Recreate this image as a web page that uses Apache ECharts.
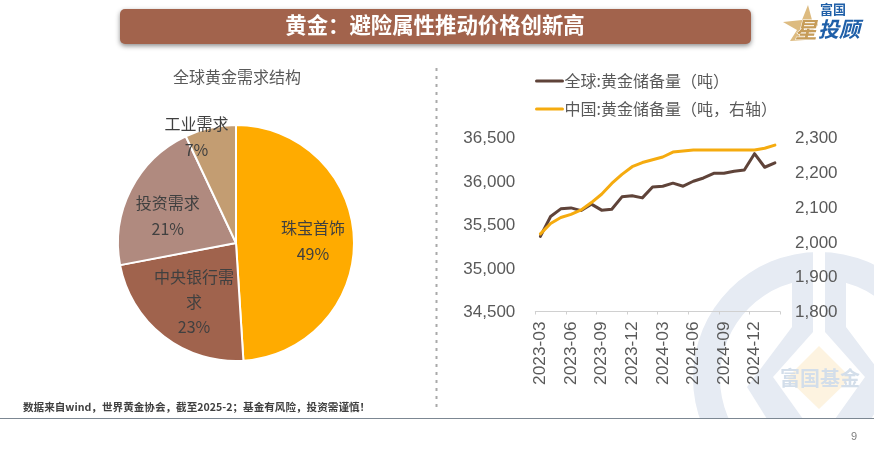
<!DOCTYPE html>
<html>
<head>
<meta charset="utf-8">
<style>html,body{margin:0;padding:0;background:#fff}#c{width:874px;height:456px}</style>
<script src="https://cdn.jsdelivr.net/npm/echarts@6/dist/echarts.min.js"></script>
</head>
<body>
<div id="c"></div>
<script>
const pageTitle = '黄金：避险属性推动价格创新高';
const pieTitle = '全球黄金需求结构';
const footnote = '数据来自wind，世界黄金协会，截至2025-2；基金有风险，投资需谨慎！';
const pieNames = ['珠宝首饰', '中央银行需求', '投资需求', '工业需求'];
const pieValues = [49, 23, 21, 7];
const months = ['2023-03','2023-04','2023-05','2023-06','2023-07','2023-08','2023-09','2023-10','2023-11','2023-12','2024-01','2024-02','2024-03','2024-04','2024-05','2024-06','2024-07','2024-08','2024-09','2024-10','2024-11','2024-12','2025-01','2025-02'];
const globalName = '全球:黄金储备量（吨）';
const chinaName = '中国:黄金储备量（吨，右轴）';
const globalReserve = [35363,35592,35680,35691,35660,35734,35665,35676,35818,35830,35806,35932,35940,35975,35940,35997,36035,36088,36088,36112,36127,36314,36158,36208];
const chinaReserve = [2023,2053,2070,2079,2092,2113,2137,2168,2194,2216,2228,2236,2244,2258,2261,2264,2264,2264,2264,2264,2264,2264,2269,2278];

const FONT = '"Noto Sans CJK SC","Liberation Sans",sans-serif';
const NUM = '"Liberation Sans","Noto Sans CJK SC",sans-serif';
const WM = '#e6ebf3';

const chart = echarts.init(document.getElementById('c'), null, {renderer: 'canvas'});
const pieColors = ['#FFAB00', '#A0634D', '#B08A7F', '#C39D72'];
const labelOffsets = [[15, 0], [-4, 10], [-13, 1], [-26, -46]];

chart.setOption({
  animation: false,
  backgroundColor: '#fff',
  title: [
    {text: pageTitle, left: 430, top: 5, textAlign: 'center',
      textStyle: {color: '#fff', fontFamily: FONT, fontWeight: 'bold', fontSize: 21.4, lineHeight: 30}},
    {text: pieTitle, left: 232, top: 61, textAlign: 'center',
      textStyle: {color: '#595959', fontFamily: FONT, fontWeight: 'normal', fontSize: 16, lineHeight: 22}},
    {text: footnote, left: 18, top: 394,
      textStyle: {color: '#404040', fontFamily: FONT, fontWeight: 'bold', fontSize: 10.6, lineHeight: 15}}
  ],
  legend: {
    orient: 'vertical', left: 530, top: 68, itemWidth: 26, itemHeight: 14, itemGap: 12,
    data: [globalName, chinaName],
    textStyle: {color: '#595959', fontFamily: FONT, fontSize: 16, padding: [0, 0, 0, -3]},
    lineStyle: {width: 3},
    itemStyle: {opacity: 0}
  },
  grid: {left: 535.3, right: 94, top: 137.5, bottom: 144.5, containLabel: false},
  xAxis: {
    type: 'category', data: months, boundaryGap: true,
    axisLine: {show: true, lineStyle: {color: '#d0d0d0', width: 1}},
    axisTick: {show: true, interval: 2, length: 3, lineStyle: {color: '#d0d0d0'}},
    axisLabel: {interval: 2, rotate: 90, margin: 10, color: '#595959', fontFamily: NUM, fontSize: 17.3, hideOverlap: false},
    splitLine: {show: false}
  },
  yAxis: [
    {type: 'value', min: 34500, max: 36500, interval: 500,
      axisLine: {show: false}, axisTick: {show: false}, splitLine: {show: false},
      axisLabel: {margin: 20, color: '#595959', fontFamily: NUM, fontSize: 17, verticalAlign: 'top', lineHeight: 2,
        formatter: v => v.toLocaleString('en-US')}},
    {type: 'value', min: 1800, max: 2300, interval: 100, position: 'right',
      axisLine: {show: false}, axisTick: {show: false}, splitLine: {show: false},
      axisLabel: {margin: 15, color: '#595959', fontFamily: NUM, fontSize: 17, verticalAlign: 'top', lineHeight: 2,
        formatter: v => v.toLocaleString('en-US')}}
  ],
  series: [
    {type: 'pie', center: [236, 243], radius: [0, 118], startAngle: 90, clockwise: true,
      avoidLabelOverlap: false, z: 3,
      itemStyle: {borderColor: '#fff', borderWidth: 2},
      label: {show: true, position: 'inside', formatter: '{b}\n{d}%', color: '#404040',
        fontFamily: FONT, fontSize: 16, lineHeight: 26, align: 'center'},
      labelLine: {show: false},
      emphasis: {disabled: true},
      data: pieNames.map((n, i) => ({
        name: n, value: pieValues[i], itemStyle: {color: pieColors[i]},
        label: Object.assign({offset: labelOffsets[i]}, i === 1 ? {width: 82, overflow: 'break', lineHeight: 25} : {})
      }))
    },
    {name: globalName, type: 'line', yAxisIndex: 0, data: globalReserve, symbol: 'none', z: 3,
      lineStyle: {color: '#5F4339', width: 3, join: 'round', cap: 'round'}, itemStyle: {color: '#5F4339'}},
    {name: chinaName, type: 'line', yAxisIndex: 1, data: chinaReserve, symbol: 'none', z: 4,
      lineStyle: {color: '#F5AB0F', width: 3, join: 'round', cap: 'round'}, itemStyle: {color: '#F5AB0F'}}
  ],
  graphic: [
    // watermark
    {type: 'ring', z: -10, shape: {cx: 819, cy: 378, r: 126, r0: 99}, style: {fill: WM}},
    {type: 'rect', z: -9, shape: {x: 813, y: 245, width: 12, height: 90}, style: {fill: '#fff'}},
    {type: 'polygon', z: -8, shape: {points: [[792,278],[813,278],[813,332],[773,377],[803,419],[767,419],[747,387],[792,327]]}, style: {fill: WM}},
    {type: 'polygon', z: -8, shape: {points: [[846,278],[825,278],[825,332],[865,377],[835,419],[871,419],[891,387],[846,327]]}, style: {fill: WM}},
    {type: 'polygon', z: -7, shape: {points: [[819,346],[851,378],[819,409],[787,378]]}, style: {fill: '#fdf3e0'}},
    {type: 'text', z: -6, style: {x: 820, y: 378, text: '富国基金', fill: '#d3deea', font: 'bold 20px ' + FONT, align: 'center', verticalAlign: 'middle'}},
    {type: 'rect', z: -5, shape: {x: 0, y: 419, width: 874, height: 37}, style: {fill: '#fff'}},
    // header bar
    {type: 'rect', z: -4, shape: {x: 120, y: 9, width: 631, height: 35, r: 5},
      style: {fill: '#A2634C', shadowBlur: 5, shadowOffsetY: 2, shadowColor: 'rgba(0,0,0,0.45)'}},
    // logo
    {type: 'polygon', z: -3, shape: {points: [[808,5],[812,20],[818,20],[818,25],[813,30],[805,40],[790,41],[797,30],[783,22],[802,20]]}, style: {fill: '#DDBB80'}},
    {type: 'text', z: -2, style: {x: 806, y: 30, text: '星', fill: '#C69C58', stroke: '#fff', lineWidth: 1, font: 'italic bold 22px ' + FONT, align: 'center', verticalAlign: 'middle'}},
    {type: 'text', z: -2, style: {x: 833, y: 9, text: '富国', fill: '#1F5FA8', font: 'bold 13px ' + FONT, align: 'center', verticalAlign: 'middle'}},
    {type: 'text', z: -2, style: {x: 839, y: 29, text: '投顾', fill: '#1F5FA8', font: 'italic bold 21px ' + FONT, align: 'center', verticalAlign: 'middle'}},
    // dotted divider and footer
    {type: 'line', z: -2, shape: {x1: 436.5, y1: 68, x2: 436.5, y2: 410}, style: {stroke: '#a9a9a9', lineWidth: 2, lineDash: [3, 5]}},
    {type: 'line', z: -2, shape: {x1: 0, y1: 418.5, x2: 874, y2: 418.5}, style: {stroke: '#7C8792', lineWidth: 1}},
    {type: 'text', z: -2, style: {x: 854, y: 437, text: '9', fill: '#7f7f7f', font: '11px ' + NUM, align: 'center', verticalAlign: 'middle'}}
  ]
});
</script>
</body>
</html>
